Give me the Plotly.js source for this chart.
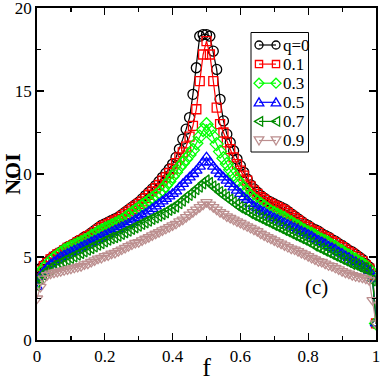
<!DOCTYPE html>
<html>
<head>
<meta charset="utf-8">
<script src="https://cdn.plot.ly/plotly-3.0.1.min.js"></script>
<style>html,body{margin:0;padding:0;background:#fff;}#chart{width:382px;height:382px;}</style>
</head>
<body>
<div id="chart"></div>
<script>
const f = [0,0.01,0.02,0.03,0.04,0.05,0.06,0.07,0.08,0.09,0.1,0.11,0.12,0.13,0.14,0.15,0.16,0.17,0.18,0.19,0.2,0.21,0.22,0.23,0.24,0.25,0.26,0.27,0.28,0.29,0.3,0.31,0.32,0.33,0.34,0.35,0.36,0.37,0.38,0.39,0.4,0.41,0.42,0.43,0.44,0.45,0.46,0.47,0.48,0.49,0.5,0.51,0.52,0.53,0.54,0.55,0.56,0.57,0.58,0.59,0.6,0.61,0.62,0.63,0.64,0.65,0.66,0.67,0.68,0.69,0.7,0.71,0.72,0.73,0.74,0.75,0.76,0.77,0.78,0.79,0.8,0.81,0.82,0.83,0.84,0.85,0.86,0.87,0.88,0.89,0.9,0.91,0.92,0.93,0.94,0.95,0.96,0.97,0.98,0.99,1];

const noi_q0 = [4.0,4.3,4.5,4.7,4.9,5.05,5.2,5.3,5.45,5.6,5.7,5.8,5.95,6.05,6.2,6.3,6.45,6.6,6.75,6.9,7.0,7.1,7.2,7.3,7.4,7.55,7.7,7.85,8.0,8.15,8.3,8.5,8.7,8.9,9.1,9.3,9.55,9.8,10.05,10.3,10.6,11.0,11.5,12.1,12.7,13.4,14.8,16.4,18.3,18.4,18.4,18.3,17.4,16.3,14.5,13.2,12.4,11.9,11.4,10.9,10.5,10.1,9.7,9.35,9.1,8.9,8.7,8.55,8.4,8.3,8.2,8.1,8.0,7.9,7.75,7.6,7.45,7.3,7.15,7.0,6.9,6.75,6.65,6.55,6.4,6.3,6.2,6.05,5.95,5.8,5.7,5.55,5.4,5.3,5.15,5.0,4.85,4.6,4.4,3.9,1.0];

const noi_q01 = [3.9,4.2,4.45,4.65,4.85,5.0,5.15,5.25,5.4,5.55,5.65,5.75,5.9,6.0,6.1,6.25,6.35,6.5,6.65,6.8,6.9,7.0,7.1,7.2,7.3,7.45,7.6,7.75,7.9,8.05,8.2,8.35,8.55,8.75,8.95,9.15,9.35,9.6,9.8,10.05,10.3,10.65,11.0,11.3,11.65,12.25,12.9,13.9,15.6,17.2,18.0,17.2,15.6,14.0,13.0,12.5,11.9,11.5,11.0,10.6,10.2,9.9,9.6,9.25,9.0,8.8,8.6,8.45,8.3,8.2,8.1,8.0,7.9,7.8,7.65,7.5,7.35,7.2,7.05,6.9,6.8,6.65,6.55,6.45,6.3,6.2,6.1,5.95,5.85,5.7,5.6,5.45,5.3,5.2,5.05,4.9,4.75,4.5,4.3,3.9,1.0];

const noi_q03 = [3.5,4.0,4.3,4.55,4.75,4.95,5.1,5.25,5.4,5.5,5.6,5.7,5.8,5.9,6.0,6.1,6.25,6.35,6.5,6.6,6.7,6.8,6.9,7.0,7.1,7.2,7.35,7.5,7.65,7.8,7.95,8.1,8.25,8.4,8.55,8.7,8.85,9.05,9.3,9.55,9.85,10.1,10.4,10.65,10.9,11.15,11.45,11.85,12.25,12.65,13.0,12.65,12.25,11.8,11.35,10.95,10.6,10.25,9.95,9.65,9.4,9.15,8.9,8.65,8.5,8.35,8.2,8.05,7.9,7.75,7.65,7.55,7.45,7.35,7.2,7.1,6.95,6.85,6.7,6.6,6.5,6.4,6.3,6.15,6.05,5.95,5.85,5.7,5.6,5.45,5.35,5.2,5.1,4.95,4.85,4.7,4.6,4.45,4.25,3.8,1.0];

const noi_q05 = [3.2,3.8,4.1,4.35,4.55,4.7,4.85,5.0,5.1,5.2,5.3,5.4,5.5,5.6,5.7,5.8,5.9,6.0,6.1,6.2,6.3,6.4,6.5,6.6,6.7,6.8,6.9,7.0,7.1,7.25,7.35,7.5,7.6,7.75,7.9,8.05,8.2,8.35,8.5,8.65,8.8,8.95,9.2,9.4,9.6,9.8,10.0,10.2,10.45,10.7,11.0,10.7,10.45,10.2,10.0,9.8,9.6,9.4,9.2,9.0,8.8,8.6,8.45,8.2,8.05,7.95,7.8,7.7,7.55,7.45,7.35,7.25,7.15,7.05,6.95,6.85,6.75,6.65,6.55,6.45,6.35,6.25,6.1,6.0,5.9,5.8,5.65,5.55,5.45,5.3,5.2,5.05,4.95,4.8,4.7,4.55,4.45,4.3,4.15,3.7,1.0];

const noi_q07 = [3.3,3.7,3.95,4.15,4.3,4.45,4.55,4.65,4.75,4.85,4.95,5.05,5.15,5.25,5.35,5.45,5.55,5.65,5.75,5.85,5.95,6.05,6.15,6.2,6.3,6.4,6.5,6.6,6.7,6.8,6.9,7.0,7.1,7.2,7.3,7.4,7.5,7.6,7.7,7.85,7.95,8.05,8.25,8.4,8.6,8.75,8.9,9.1,9.25,9.45,9.6,9.45,9.25,9.1,8.9,8.75,8.6,8.45,8.3,8.15,8.0,7.9,7.8,7.65,7.55,7.45,7.35,7.25,7.15,7.05,6.95,6.85,6.75,6.65,6.55,6.45,6.35,6.25,6.15,6.05,5.95,5.85,5.7,5.6,5.5,5.4,5.3,5.2,5.1,5.0,4.9,4.8,4.7,4.6,4.55,4.45,4.35,4.3,4.2,3.6,1.0];

const noi_q09 = [2.5,3.2,3.7,3.9,4.0,4.05,4.1,4.15,4.2,4.25,4.3,4.35,4.4,4.45,4.55,4.6,4.7,4.8,4.9,4.95,5.05,5.1,5.2,5.25,5.35,5.45,5.55,5.65,5.75,5.85,5.9,6.0,6.1,6.2,6.3,6.4,6.5,6.6,6.7,6.8,6.9,7.0,7.15,7.25,7.4,7.55,7.7,7.85,8.0,8.15,8.3,8.15,8.0,7.85,7.7,7.6,7.45,7.35,7.25,7.15,7.05,6.95,6.85,6.75,6.65,6.55,6.4,6.3,6.2,6.1,6.0,5.9,5.8,5.7,5.6,5.5,5.45,5.35,5.25,5.15,5.05,4.95,4.85,4.75,4.7,4.6,4.5,4.45,4.35,4.25,4.15,4.05,4.0,3.9,3.85,3.8,3.75,3.7,3.6,2.4,1.0];

const seriesNames = ["q=0","0.1","0.3","0.5","0.7","0.9"];
const seriesValues = [noi_q0, noi_q01, noi_q03, noi_q05, noi_q07, noi_q09];
const xTickVals = [0,0.2,0.4,0.6,0.8,1];
const xTickText = ["0","0.2","0.4","0.6","0.8","1"];
const yTickVals = [0,5,10,15,20];

const colors = ["#000000","#ff0000","#00ff00","#0000ff","#008b00","#bc8f8f"];
const symbols = ["circle-open","square-open","diamond-open","triangle-up-open","triangle-left-open","triangle-down-open"];
const keyShapes = ["circle","square","diamond","tri-up","tri-left","tri-down"];
const sizes = [10,9,10,10,10,10];

const traces = seriesValues.map((v, i) => ({
  x: f, y: v, type: "scatter", mode: "lines+markers", name: seriesNames[i],
  showlegend: false,
  line: {color: colors[i], width: 1.2},
  marker: {symbol: symbols[i], size: sizes[i], color: colors[i], line: {color: colors[i], width: 1.3}}
}));

// plot area in pixels (for the hand-drawn legend box, xmgrace style)
const PL = 37, PR = 376, PT = 8, PB = 340;
const PX = p => (p - PL) / (PR - PL);
const PY = p => (PB - p) / (PB - PT);

const serif = "Liberation Serif";
const shapes = [];
const annotations = [];
shapes.push({type: "rect", xref: "paper", yref: "paper", layer: "above",
  x0: PX(251), x1: PX(308.5), y0: PY(152), y1: PY(32.5),
  fillcolor: "#fff", line: {color: "#000", width: 1}});

function keyMarker(kind, cx, cy, color) {
  const r = 4;
  const base = {xref: "paper", yref: "paper", layer: "above", line: {color: color, width: 1.3}, fillcolor: "rgba(0,0,0,0)"};
  if (kind === "circle") return Object.assign({type: "circle", x0: PX(cx - r), x1: PX(cx + r), y0: PY(cy + r), y1: PY(cy - r)}, base);
  if (kind === "square") return Object.assign({type: "rect", x0: PX(cx - 3.6), x1: PX(cx + 3.6), y0: PY(cy + 3.6), y1: PY(cy - 3.6)}, base);
  let pts;
  if (kind === "diamond") pts = [[cx, cy - 5], [cx + 5, cy], [cx, cy + 5], [cx - 5, cy]];
  if (kind === "tri-up") pts = [[cx, cy - 4.5], [cx + 4.8, cy + 3.6], [cx - 4.8, cy + 3.6]];
  if (kind === "tri-down") pts = [[cx, cy + 4.5], [cx + 4.8, cy - 3.6], [cx - 4.8, cy - 3.6]];
  if (kind === "tri-left") pts = [[cx - 4.5, cy], [cx + 3.6, cy - 4.8], [cx + 3.6, cy + 4.8]];
  const path = pts.map((p, k) => (k ? "L" : "M") + PX(p[0]).toFixed(5) + "," + PY(p[1]).toFixed(5)).join(" ") + " Z";
  return Object.assign({type: "path", path: path}, base);
}

seriesNames.forEach((name, i) => {
  const cy = 45 + 19.1 * i;
  const xa = 259, xb = 276;
  shapes.push({type: "line", xref: "paper", yref: "paper", layer: "above",
    x0: PX(xa), x1: PX(xb), y0: PY(cy), y1: PY(cy), line: {color: colors[i], width: 1.2}});
  shapes.push(keyMarker(keyShapes[i], xa, cy, colors[i]));
  shapes.push(keyMarker(keyShapes[i], xb, cy, colors[i]));
  annotations.push({xref: "paper", yref: "paper", x: PX(281), y: PY(cy), xanchor: "left", yanchor: "middle",
    text: name, showarrow: false, font: {family: serif, size: 17, color: "#000"}});
});

annotations.push({x: 0.823, y: 3.2, xref: "x", yref: "y", text: "(c)", showarrow: false,
  font: {family: serif, size: 21, color: "#000"}});

const layout = {
  width: 382, height: 382,
  margin: {l: 37, r: 6, t: 8, b: 42},
  paper_bgcolor: "#fff", plot_bgcolor: "#fff",
  showlegend: false,
  xaxis: {range: [0, 1], tickvals: xTickVals, ticktext: xTickText,
    ticks: "inside", ticklen: 7, tickwidth: 1.2, tickcolor: "#000",
    minor: {dtick: 0.1, ticks: "inside", ticklen: 4, tickwidth: 1.2, tickcolor: "#000"},
    showline: true, linecolor: "#000", linewidth: 1.8, mirror: "allticks",
    showgrid: false, zeroline: false, ticklabeloverflow: "allow",
    tickfont: {family: serif, size: 17, color: "#000"},
    title: {text: "f", font: {family: serif, size: 26, color: "#000"}, standoff: 2}},
  yaxis: {range: [0, 20], tickvals: yTickVals,
    ticks: "inside", ticklen: 7, tickwidth: 1.2, tickcolor: "#000",
    minor: {dtick: 2.5, ticks: "inside", ticklen: 4, tickwidth: 1.2, tickcolor: "#000"},
    showline: true, linecolor: "#000", linewidth: 1.8, mirror: "allticks",
    showgrid: false, zeroline: false, ticklabeloverflow: "allow",
    tickfont: {family: serif, size: 17, color: "#000"},
    title: {text: "<b>NOI</b>", font: {family: serif, size: 22, color: "#000"}, standoff: 10}},
  shapes: shapes,
  annotations: annotations
};
Plotly.newPlot("chart", traces, layout, {displayModeBar: false, staticPlot: true});
</script>
</body>
</html>
